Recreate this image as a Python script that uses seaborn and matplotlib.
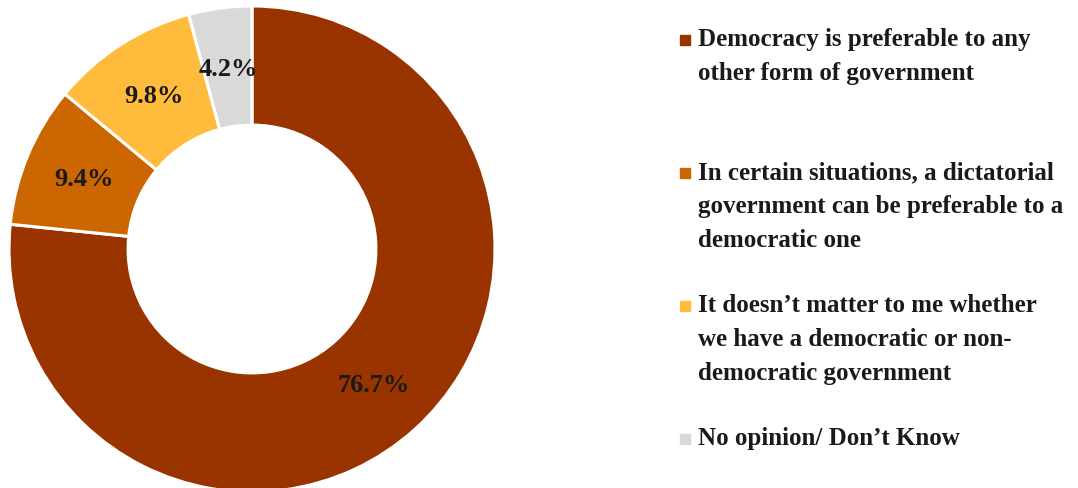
import matplotlib.pyplot as plt
import numpy as np
import seaborn as sns

# Data
labels = [
    "Democracy is preferable to any\nother form of government",
    "In certain situations, a dictatorial\ngovernment can be preferable to a\ndemocratic one",
    "It doesn\u2019t matter to me whether\nwe have a democratic or non-\ndemocratic government",
    "No opinion/ Don\u2019t Know",
]
shares = [76.7, 9.4, 9.8, 4.2]
colors = ["#993300", "#CC6600", "#FFBB3C", "#D9D9D9"]

sns.set_theme(style="white")
plt.rcParams['font.family'] = ['Liberation Serif', 'DejaVu Serif']

W, H = 1078, 489
fig = plt.figure(figsize=(W / 100, H / 100), dpi=100)
ax = fig.add_axes([9 / W, -4 / H, 486 / W, 486 / H])

wedges, _ = ax.pie(
    shares, colors=colors, startangle=90, counterclock=False,
    wedgeprops=dict(width=0.49, edgecolor='white', linewidth=2.2),
)
ax.set_xlim(-1, 1)
ax.set_ylim(-1, 1)
ax.set_aspect('equal')

# percentage labels in the middle of the ring
for w, v in zip(wedges, shares):
    ang = np.deg2rad((w.theta1 + w.theta2) / 2)
    r = 0.75
    ax.text(r * np.cos(ang), r * np.sin(ang), f"{v}%", ha='center', va='center',
            fontsize=19, fontweight='bold', color='#1a1a1a')

# Legend drawn as evenly spaced blocks, like the original
base0 = 50
step = 133
for i, (lab, col) in enumerate(zip(labels, colors)):
    b = base0 + i * step
    fig.patches.append(plt.Rectangle((680 / W, 1 - (b - 4) / H), 10 / W, 10 / H,
                                     transform=fig.transFigure, color=col, figure=fig))
    fig.text(698 / W, 1 - (b - 22) / H, lab, va='top', ha='left', fontsize=18,
             fontweight='bold', color='#1a1a1a', linespacing=1.62)

fig.savefig("out.png", dpi=100)
